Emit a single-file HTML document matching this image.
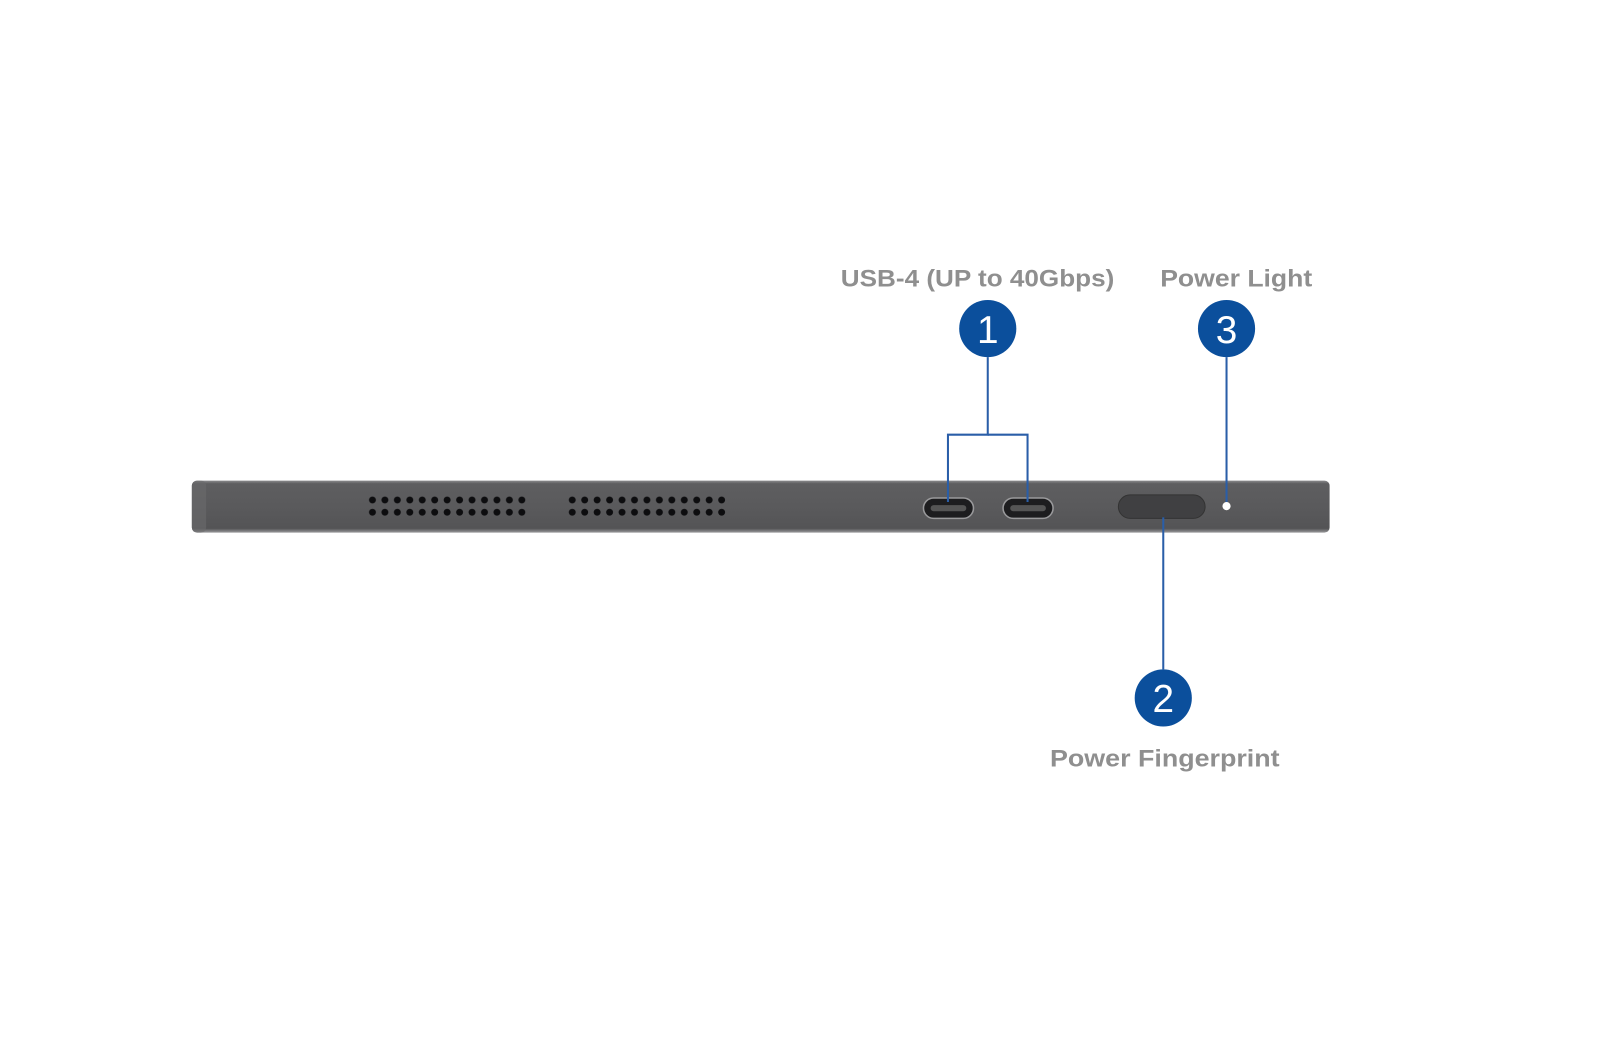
<!DOCTYPE html>
<html><head><style>html,body{margin:0;padding:0;background:#fff;}svg{display:block}</style></head>
<body>
<svg width="1600" height="1060" viewBox="0 0 1568 1038.8" xmlns="http://www.w3.org/2000/svg">
<defs>
<linearGradient id="body" x1="0" y1="0" x2="0" y2="1">
<stop offset="0" stop-color="#8a8a8c"/><stop offset="0.06" stop-color="#5e5e60"/><stop offset="0.5" stop-color="#5a5a5c"/><stop offset="0.92" stop-color="#545456"/><stop offset="1" stop-color="#9a9a9c"/>
</linearGradient>
<pattern id="dots" x="359" y="484" width="12.2" height="12" patternUnits="userSpaceOnUse">
<circle cx="6" cy="6" r="3.4" fill="#0d0d0f"/>
</pattern>
</defs>
<rect x="188" y="471" width="1115" height="51" rx="5" fill="url(#body)"/>
<rect x="188" y="471" width="14" height="51" rx="5" fill="#6a6a6c" opacity="0.6"/>
<rect x="359" y="484" width="158" height="24" fill="url(#dots)"/>
<rect x="555" y="484" width="158" height="24" fill="url(#dots)" transform="translate(0.6,0)"/>
<rect x="905" y="488" width="49" height="20" rx="10" fill="#1d1d1f" stroke="#9a9a9c" stroke-width="1.5"/>
<rect x="912" y="495" width="35" height="6" rx="3" fill="#555"/>
<rect x="983" y="488" width="49" height="20" rx="10" fill="#1d1d1f" stroke="#9a9a9c" stroke-width="1.5"/>
<rect x="990" y="495" width="35" height="6" rx="3" fill="#555"/>
<rect x="1096" y="485" width="85" height="23" rx="11.5" fill="#404042" stroke="#333" stroke-width="1"/>
<circle cx="1202" cy="496" r="4" fill="#fff"/>
<g stroke="#2a5ea8" stroke-width="2" fill="none">
<polyline points="968,350 968,426 929,426 929,492"/>
<polyline points="968,426 1007,426 1007,492"/>
<line x1="1202" y1="350" x2="1202" y2="492"/>
<line x1="1140" y1="507" x2="1140" y2="656"/>
</g>
<g fill="#0b4f9c">
<circle cx="968" cy="322" r="28"/><circle cx="1202" cy="322" r="28"/><circle cx="1140" cy="684" r="28"/>
</g>
<g fill="#fff" font-family="Liberation Sans, sans-serif" font-size="38" text-anchor="middle">
<text x="968" y="336">1</text><text x="1202" y="336">3</text><text x="1140" y="698">2</text>
</g>
<g fill="#8f8f8f" font-family="Liberation Sans, sans-serif" font-size="24" font-weight="bold">
<text x="824" y="281" textLength="268" lengthAdjust="spacingAndGlyphs">USB-4 (UP to 40Gbps)</text>
<text x="1137" y="281" textLength="149" lengthAdjust="spacingAndGlyphs">Power Light</text>
<text x="1029" y="751" textLength="225" lengthAdjust="spacingAndGlyphs">Power Fingerprint</text>
</g>
</svg>
</body></html>
